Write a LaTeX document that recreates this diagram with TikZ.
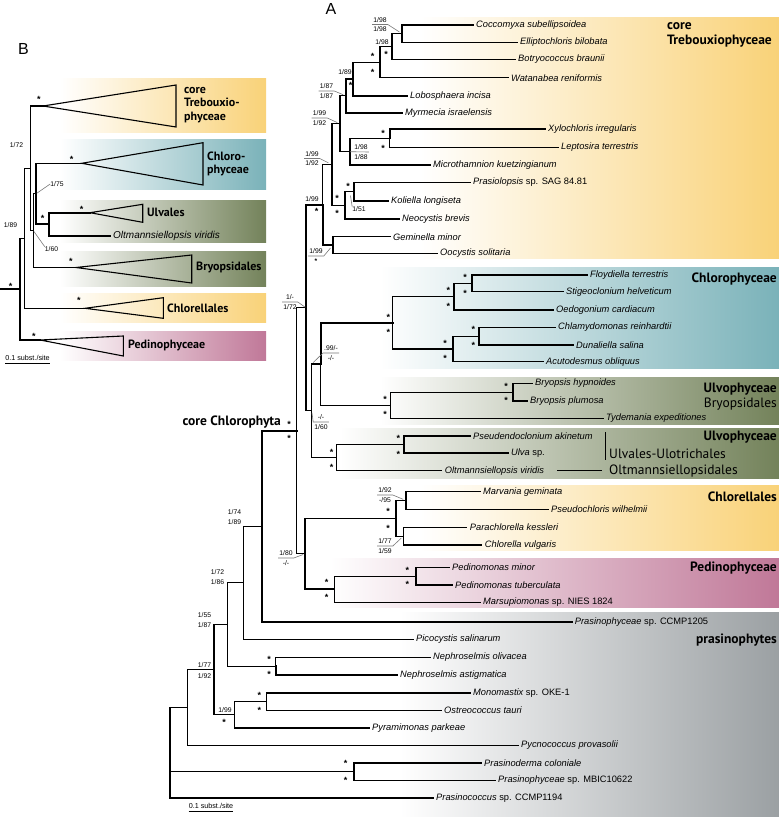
\documentclass[tikz,border=0pt]{standalone}
\usepackage{fontspec}
\setmainfont{Liberation Sans}
\newfontfamily\grpfont{PT Sans}
\usetikzlibrary{calc}
\definecolor{trebY}{RGB}{249,210,120}
\definecolor{chlT}{RGB}{122,178,185}
\definecolor{ulvO}{RGB}{115,130,90}
\definecolor{pedP}{RGB}{192,120,152}
\definecolor{prasG}{RGB}{155,160,163}
\definecolor{leadG}{RGB}{120,120,120}
\newcommand{\upr}[1]{{\upshape #1}}
\tikzset{
  br/.style={line width=1.1pt,line cap=rect},
  thk/.style={line width=2pt,line cap=rect},
  taxon/.style={anchor=west,inner xsep=3pt,inner ysep=0pt,
    font=\fontsize{9.3}{10}\selectfont\itshape},
  supp/.style={inner sep=0pt,font=\fontsize{6.8}{9.5}\selectfont},
  frac/.style={supp,inner xsep=1pt,align=center},
  ast/.style={inner sep=0pt,anchor=base,yshift=-4.6pt,
    font=\fontsize{9}{9}\selectfont\bfseries},
  lead/.style={draw=leadG,line width=0.6pt},
  grp/.style={inner sep=0pt,font=\grpfont\fontsize{13.5}{15}\selectfont\bfseries},
  grpB/.style={inner sep=0pt,anchor=west,align=left,
    font=\grpfont\fontsize{12}{13.3}\selectfont\bfseries},
  ord/.style={inner sep=0pt,font=\grpfont\fontsize{13.5}{15}\selectfont},
  band/.style={left color=white,right color=#1},
  clade/.style={line width=1.1pt,line join=miter},
  panel/.style={inner sep=0pt,font=\fontsize{16}{16}\selectfont},
  scalebar/.style={inner sep=0pt,font=\fontsize{7.2}{8}\selectfont},
}

\begin{document}
\begin{tikzpicture}[x=1pt,y=-1pt]
  \useasboundingbox (0,0) rectangle (779,817);
  % colour bands, panel A
  \shade[band=trebY] (420,17) rectangle (779,258);
  \shade[band=chlT] (380,267) rectangle (779,368);
  \shade[band=ulvO] (380,377) rectangle (779,424);
  \shade[band=ulvO] (340,428) rectangle (779,478);
  \shade[band=trebY] (420,485) rectangle (779,550);
  \shade[band=pedP] (330,558) rectangle (779,607);
  \shade[band=prasG] (400,612) rectangle (779,817);
  % colour bands, panel B
  \shade[band=trebY] (60,78) rectangle (266,132);
  \shade[band=chlT] (60,139) rectangle (266,189);
  \shade[band=ulvO] (60,200) rectangle (266,242);
  \shade[band=ulvO] (60,251) rectangle (266,286);
  \shade[band=trebY] (60,293) rectangle (266,322);
  \shade[band=pedP] (60,331) rectangle (266,360);

  \node[panel] (pA) at (331,9) {A};
  \node[panel] (pB) at (23.5,48.5) {B};

  % taxa, panel A
  \node[taxon] (coc) at (473,25) {Coccomyxa subellipsoidea};
  \node[taxon] (ell) at (517,42.3) {Elliptochloris bilobata};
  \node[taxon] (bot) at (515,59.3) {Botryococcus braunii};
  \node[taxon] (wat) at (508,77.7) {Watanabea reniformis};
  \node[taxon] (lob) at (407,96) {Lobosphaera incisa};
  \node[taxon] (myr) at (402,112.7) {Myrmecia israelensis};
  \node[taxon] (xyl) at (545,129.3) {Xylochloris irregularis};
  \node[taxon] (lep) at (558,147.3) {Leptosira terrestris};
  \node[taxon] (mic) at (430,165) {Microthamnion kuetzingianum};
  \node[taxon] (pra) at (470,182.3) {Prasiolopsis \upr{sp. SAG 84.81}};
  \node[taxon] (kol) at (388,201) {Koliella longiseta};
  \node[taxon] (neo) at (399,219) {Neocystis brevis};
  \node[taxon] (gem) at (390,236.7) {Geminella minor};
  \node[taxon] (ooc) at (437,253.3) {Oocystis solitaria};
  \node[taxon] (flo) at (587,275) {Floydiella terrestris};
  \node[taxon] (sti) at (563,291.7) {Stigeoclonium helveticum};
  \node[taxon] (oed) at (553,310) {Oedogonium cardiacum};
  \node[taxon] (chl) at (555,327.3) {Chlamydomonas reinhardtii};
  \node[taxon] (dun) at (573,345) {Dunaliella salina};
  \node[taxon] (acu) at (543,361.7) {Acutodesmus obliquus};
  \node[taxon] (bhy) at (532,383.3) {Bryopsis hypnoides};
  \node[taxon] (bpl) at (527,401) {Bryopsis plumosa};
  \node[taxon] (tyd) at (603,418.3) {Tydemania expeditiones};
  \node[taxon] (pse) at (470,436) {Pseudendoclonium akinetum};
  \node[taxon] (ulv) at (508,453.3) {Ulva \upr{sp.}};
  \node[taxon] (olt) at (441.7,470.7) {Oltmannsiellopsis viridis};
  \node[taxon] (mar) at (480,491.7) {Marvania geminata};
  \node[taxon] (psc) at (548,509.3) {Pseudochloris wilhelmii};
  \node[taxon] (par) at (466.7,527.3) {Parachlorella kessleri};
  \node[taxon] (chv) at (481.7,545) {Chlorella vulgaris};
  \node[taxon] (pmi) at (449,567.3) {Pedinomonas minor};
  \node[taxon] (ptu) at (452,585) {Pedinomonas tuberculata};
  \node[taxon] (mrs) at (480,602.3) {Marsupiomonas \upr{sp. NIES 1824}};
  \node[taxon] (ccm) at (571.7,621.7) {Prasinophyceae \upr{sp. CCMP1205}};
  \node[taxon] (pic) at (413,639.3) {Picocystis salinarum};
  \node[taxon] (nol) at (430,657.3) {Nephroselmis olivacea};
  \node[taxon] (nas) at (397,675) {Nephroselmis astigmatica};
  \node[taxon] (mon) at (470,693) {Monomastix \upr{sp. OKE-1}};
  \node[taxon] (ost) at (441,710.3) {Ostreococcus tauri};
  \node[taxon] (pyr) at (369,728) {Pyramimonas parkeae};
  \node[taxon] (pyc) at (518,745.5) {Pycnococcus provasolii};
  \node[taxon] (psd) at (481,763) {Prasinoderma coloniale};
  \node[taxon] (mbi) at (495,780.5) {Prasinophyceae \upr{sp. MBIC10622}};
  \node[taxon] (pcc) at (433,798) {Prasinococcus \upr{sp. CCMP1194}};

  % internal nodes, panel A
  \coordinate (nCE) at (402,33.65);
  \coordinate (nCEB) at (392,46.5);
  \coordinate (nW) at (380,62.1);
  \coordinate (nL) at (353,79);
  \coordinate (nM) at (346,95.9);
  \coordinate (nXL) at (389.5,138.3);
  \coordinate (nXLM) at (350,151.7);
  \coordinate (nTop) at (340,123.8);
  \coordinate (nPK) at (354,191.7);
  \coordinate (nPKN) at (345,205.3);
  \coordinate (n332) at (332,164.6);
  \coordinate (nGO) at (333,245);
  \coordinate (n322) at (322.7,204.8);
  \coordinate (nFS) at (472,283.3);
  \coordinate (nFSO) at (454,296.7);
  \coordinate (nCD) at (479,336.2);
  \coordinate (nCDA) at (453,349);
  \coordinate (nChl) at (392.7,322.8);
  \coordinate (nBB) at (513,392.2);
  \coordinate (nBry) at (390.7,405.2);
  \coordinate (nCU) at (320.7,364);
  \coordinate (nPU) at (404,444.7);
  \coordinate (nUO) at (336.7,457.7);
  \coordinate (n311) at (311.7,410.8);
  \coordinate (n306) at (306,307.8);
  \coordinate (nMP) at (406,500.5);
  \coordinate (nPC) at (403.3,536.2);
  \coordinate (nChr) at (396,518.3);
  \coordinate (nPP) at (416,576.2);
  \coordinate (nPed) at (334.3,589.2);
  \coordinate (n305) at (305,553.8);
  \coordinate (n297) at (296.7,430.8);
  \coordinate (n262) at (261.7,526.2);
  \coordinate (n243) at (243.3,582.7);
  \coordinate (nNe) at (275.7,666.2);
  \coordinate (n227) at (227.3,624.5);
  \coordinate (nMO) at (266.5,701.7);
  \coordinate (nMOP) at (234.3,714.8);
  \coordinate (n214) at (214,669.7);
  \coordinate (n188) at (187.3,707.6);
  \coordinate (nPM) at (354,771.8);
  \coordinate (root) at (170,752.8);

  \draw[br] (nCE) |- (coc.west) (nCE) |- (ell.west)
    (nCEB) |- (nCE) (nCEB) |- (bot.west)
    (nW) |- (nCEB) (nW) |- (wat.west)
    (nL) |- (nW) (nL) |- (lob.west)
    (nM) |- (nL)
    (nTop) |- (nM) (nTop) |- (nXLM)
    (nXL) |- (lep.west)
    (nXLM) |- (nXL) (nXLM) |- (mic.west)
    (n332) |- (nTop) (n332) |- (nPKN)
    (nPK) |- (pra.west)
    (nPKN) |- (nPK) (nPKN) |- (neo.west)
    (n322) |- (n332)
    (nGO) |- (gem.west) (nGO) |- (ooc.west)
    (nFS) |- (flo.west) (nFS) |- (sti.west)
    (nFSO) |- (nFS) (nFSO) |- (oed.west)
    (nCD) |- (chl.west)
    (nCDA) |- (nCD) (nCDA) |- (acu.west)
    (nChl) |- (nFSO) (nChl) |- (nCDA)
    (nBB) |- (bhy.west) (nBB) |- (bpl.west)
    (nBry) |- (nBB) (nBry) |- (tyd.west)
    (nCU) |- (nBry)
    (nPU) |- (pse.west)
    (nUO) |- (nPU) (nUO) |- (olt.west)
    (n311) |- (nCU) (n311) |- (nUO)
    (n306) |- (n311)
    (nMP) |- (mar.west) (nMP) |- (psc.west)
    (nPC) |- (par.west) (nPC) |- (chv.west)
    (nChr) |- (nMP) (nChr) |- (nPC)
    (nPP) |- (pmi.west) (nPP) |- (ptu.west)
    (nPed) |- (nPP) (nPed) |- (mrs.west)
    (n305) |- (nChr)
    (n297) |- (n306) (n297) |- (n305)
    (n243) |- (n262) (n243) |- (pic.west)
    (nNe) |- (nol.west)
    (n227) |- (n243) (n227) |- (nNe)
    (nMO) |- (mon.west) (nMO) |- (ost.west)
    (nMOP) |- (nMO) (nMOP) |- (pyr.west)
    (n214) |- (n227) (n214) |- (nMOP)
    (n188) |- (n214) (n188) |- (pyc.west)
    (nPM) |- (mbi.west)
    (root) |- (n188) (root) |- (nPM) (root) |- (pcc.west);
  \draw[thk] (nM) |- (myr.west) (nXL) |- (xyl.west) (nPK) |- (kol.west)
    (n322) |- (nGO) (n306) |- (n322) (nCU) |- (nChl) (nCD) |- (dun.west)
    (nPU) |- (ulv.west) (n305) |- (nPed) (n262) |- (n297) (n262) |- (ccm.west)
    (nNe) |- (nas.west) (nPM) |- (psd.west);

  % branch support, panel A
  \foreach \x/\y [count=\i] in {386/52.7, 372.7/55, 372.7/70.7, 350.7/84,
      383/131.7, 383/146.7, 348/185, 337/197.3, 337/212.3, 316.7/210.3,
      465/276, 465/291.7, 448.3/289, 448.3/305, 473.3/328.3, 473.3/344,
      445/342.3, 445/357.3, 388.3/315.7, 388.3/331, 506/385, 506/399.3,
      385/398.3, 385/413.3, 398.3/436.7, 398.3/453.3, 331.7/450.7, 331.7/466,
      289/422.7, 289/437.3, 388/510, 388/526.7, 407.3/569, 407.3/583,
      326.7/581, 326.7/596, 269/658.3, 269/673.3, 259.3/694, 259.3/709.3,
      224/721, 345.6/761.7, 345.6/779}
    \node[ast] (sA\i) at (\x,\y) {*};
  \node[supp] (v1) at (382,41.7) {1/98};
  \node[supp] (v2) at (345,71.7) {1/89};
  \node[supp] (v3) at (312,199) {1/99};
  \node[supp] (v4) at (234.5,511.7) {1/74};
  \node[supp] (v5) at (234.5,521.7) {1/89};
  \node[supp] (v6) at (217.5,572) {1/72};
  \node[supp] (v7) at (217.5,582) {1/86};
  \node[supp] (v8) at (204.5,615) {1/55};
  \node[supp] (v9) at (204.5,625) {1/87};
  \node[supp] (v10) at (204.5,665) {1/77};
  \node[supp] (v11) at (204.5,676) {1/92};
  \node[supp] (v12) at (225,710) {1/99};
  \node[supp] (v13) at (359,209.5) {1/51};
  \draw[lead] (v13.north west) -- ([shift={(-3.5,4)}]nPK);

  \node[frac] (f1) at (380,24.5) {1/98\\1/98};
  \node[frac] (f2) at (326.5,91) {1/87\\1/87};
  \node[frac] (f3) at (319.5,118) {1/99\\1/92};
  \node[frac] (f4) at (361,152) {1/98\\1/88};
  \node[frac] (f5) at (312,158.5) {1/99\\1/92};
  \node[frac] (f6) at (316,256) {1/99\\{\bfseries *}};
  \node[frac] (f7) at (331,353) {.99/-\\-/-};
  \node[frac] (f8) at (321,422) {-/-\\1/60};
  \node[frac] (f9) at (290,302) {1/-\\1/72};
  \node[frac] (f10) at (385,495) {1/92\\-/95};
  \node[frac] (f11) at (385,546) {1/77\\1/59};
  \node[frac] (f12) at (286,558) {1/80\\-/-};
  \draw[lead,shorten >=3pt] (f1.west) -- (f1.east) -- (nCE);
  \draw[lead,shorten >=3pt] (f2.west) -- (f2.east) -- (nM);
  \draw[lead,shorten >=3pt] (f3.west) -- (f3.east) -- (nTop);
  \draw[lead] (nXLM) -- (f4.east);
  \draw[lead,shorten >=4pt] (f5.west) -- (f5.east) -- (n332);
  \draw[lead,shorten >=4pt] (f6.west) -- (f6.east) -- (nGO);
  \draw[lead,shorten >=2pt] (f7.east) -- (f7.west) -- (n311 |- nCU);
  \draw[lead,shorten >=2pt] (f8.east) -- (f8.west) -- (n311);
  \draw[lead,shorten >=1pt] (f9.west) -- (f9.east) -- (n306);
  \draw[lead,shorten >=3pt] (f10.west) -- (f10.east) -- (nMP);
  \draw[lead,shorten >=3pt] (f11.west) -- (f11.east) -- (nPC);
  \draw[lead,shorten >=2pt] (f12.west) -- (f12.east) -- (n305);

  % group labels, panel A
  \node[grp,anchor=north west,align=left] (gTreb) at (667,22) {core\\Trebouxiophyceae};
  \node[grp,anchor=east] (gChl) at (777,279.3) {Chlorophyceae};
  \node[grp,anchor=east] (gUlv1) at (777,389) {Ulvophyceae};
  \node[ord,anchor=east] (gBry) at (777,404.5) {Bryopsidales};
  \node[grp,anchor=east] (gUlv2) at (777,437) {Ulvophyceae};
  \node[ord,anchor=west] (gUU) at (609,453.3) {Ulvales-Ulotrichales};
  \node[ord,anchor=west] (gOO) at (609,470.7) {Oltmannsiellopsidales};
  \node[grp,anchor=east] (gChr) at (777,497) {Chlorellales};
  \node[grp,anchor=east] (gPed) at (777,568) {Pedinophyceae};
  \node[grp,anchor=east] (gPra) at (777,640) {prasinophytes};
  \node[grp,anchor=east] (gCore) at (281,422) {core Chlorophyta};
  \coordinate (brT) at (605,432);
  \coordinate (brB) at (605,460);
  \draw[line width=0.8pt] (brT) -- (brB);
  \draw[line width=0.7pt] ([xshift=10pt]olt.east) -- ([xshift=-7pt]gOO.west);

  \node[scalebar] (sbA) at (211,806) {0.1 subst./site};
  \draw[line width=0.6pt] ([yshift=-2pt]sbA.south west) -- ([yshift=-2pt]sbA.south east);

  % panel B
  \coordinate (aTreb) at (43,106);
  \coordinate (aChl) at (81.7,163.3);
  \coordinate (aUlv) at (90,212.7);
  \coordinate (aBry) at (76,267.5);
  \coordinate (aChr) at (85,308.3);
  \coordinate (aPed) at (40,340);
  \draw[clade] (aTreb) -- ++(133,-21) -- ++(0,42) -- cycle;
  \draw[clade] (aChl) -- ++(121.3,-20.6) -- ++(0,42.3) -- cycle;
  \draw[clade] (aUlv) -- ++(52.7,-8.4) -- ++(0,18) -- cycle;
  \draw[clade] (aBry) -- ++(115.7,-12.5) -- ++(0,28) -- cycle;
  \draw[clade] (aChr) -- ++(78.3,-10.6) -- ++(0,20.6) -- cycle;
  \draw[clade] (aPed) -- ++(83.3,-4) -- ++(0,20) -- cycle;
  \node[taxon,font=\fontsize{10}{11}\selectfont\itshape] (oltB) at (110,235.7) {Oltmannsiellopsis viridis};
  \coordinate (bUO) at (49.3,224.2);
  \coordinate (bCU1) at (36,193.8);
  \coordinate (bCUB) at (33.3,230.6);
  \coordinate (bB1) at (30.7,168.3);
  \coordinate (bB2) at (24.3,238.3);
  \coordinate (bRt) at (20,289.2);
  \coordinate (bR0) at (0,289.2);
  \draw[br] (bCU1) |- (aChl) (bCUB) |- (bCU1) (bCUB) |- (aBry)
    (bB1) |- (aTreb) (bB1) |- (bCUB) (bB2) |- (bB1) (bB2) |- (aChr)
    (bRt) |- (bB2) (bRt) |- (aPed);
  \draw[thk] (bUO) |- (aUlv) (bUO) |- (oltB.west) (bCU1) |- (bUO) (bR0) -- (bRt);
  \foreach \x/\y [count=\i] in {39/97.7, 71.7/158.3, 81.7/207.7, 42.7/216.7,
      71/260, 79/299.3, 34/335, 10.7/285}
    \node[ast] (sB\i) at (\x,\y) {*};
  \node[supp] (w1) at (16.5,145) {1/72};
  \node[supp] (w2) at (57,184) {1/75};
  \node[supp] (w3) at (51.5,249.3) {1/60};
  \node[supp] (w4) at (10.5,225) {1/89};
  \draw[lead,shorten >=1pt] (w2.west) -- (bCU1);
  \draw[lead,shorten >=1pt] (w3.north west) -- (bCUB);
  \node[grpB] (hTreb) at (184,105) {core\\Trebouxio-\\phyceae};
  \node[grpB] (hChl) at (207,164) {Chloro-\\phyceae};
  \node[grpB] (hUlv) at (147,212.7) {Ulvales};
  \node[grpB] (hBry) at (196,267.3) {Bryopsidales};
  \node[grpB] (hChr) at (167,308.3) {Chlorellales};
  \node[grpB] (hPed) at (128,345) {Pedinophyceae};
  \node[scalebar] (sbB) at (27.5,358) {0.1 subst./site};
  \draw[line width=0.6pt] ([yshift=-2pt]sbB.south west) -- ([yshift=-2pt]sbB.south east);
\end{tikzpicture}
\end{document}
